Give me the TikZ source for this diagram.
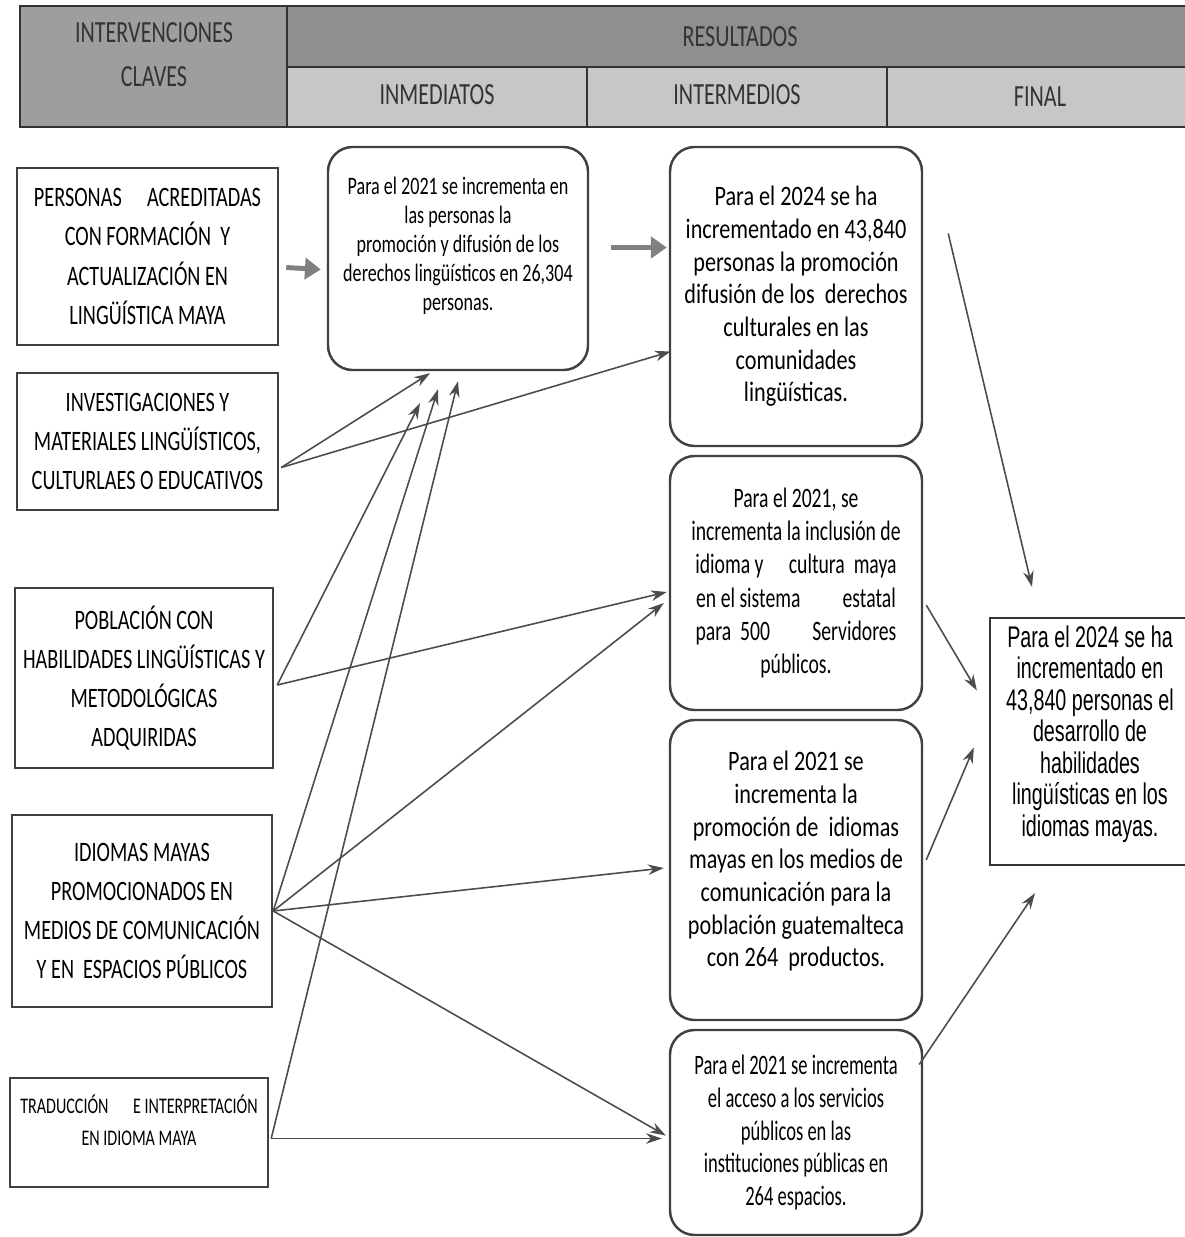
\documentclass[tikz,border=0pt]{standalone}
\usepackage{fontspec}
\usetikzlibrary{arrows.meta}
\newfontfamily\angosta[FakeStretch=0.72]{Carlito}
\newfontfamily\media[FakeStretch=0.79]{Carlito}
\newfontfamily\mediab[FakeStretch=0.70]{Carlito}
\newfontfamily\mediad[FakeStretch=0.66]{Carlito}
\newfontfamily\estrecha[FakeStretch=0.66]{Liberation Sans}
\newcommand{\enc}{\fontsize{17.5}{20}\angosta}
\newcommand{\cl}{\fontsize{16}{22.3}\angosta}
\newcommand{\cltr}{\fontsize{12.7}{18.1}\angosta}
\newcommand{\inm}{\fontsize{14.3}{16.6}\angosta}
\newcommand{\itm}{\fontsize{16}{18.6}\media}
\newcommand{\itmb}{\fontsize{16}{18.8}\mediab}
\newcommand{\itmd}{\fontsize{16}{18.6}\mediad}
\newcommand{\fn}{\fontsize{17}{17.9}\estrecha}

\begin{document}
\begin{tikzpicture}[x=0.02cm,y=-0.02cm,
    tam/.style 2 args={minimum width=#1*0.02cm,minimum height=#2*0.02cm},
    clave/.style={draw=black!75,line width=1.4pt,align=center,inner sep=0pt,font=\cl},
    inmed/.style={draw=black!75,line width=1.4pt,rounded corners=14pt,align=center,inner sep=0pt,font=\inm},
    interm/.style={inmed,font=\itm},
    encab/.style={font=\enc,text=black!80},
    flecha/.style={draw=black!70,line width=0.9pt,-{Stealth[length=9pt,width=6pt]}},
    gruesa/.style={draw=black!50,line width=2.8pt,-{Triangle[length=9pt,width=12pt]}}]
  \useasboundingbox (0,0) rectangle (1185,1237);

  % encabezado
  \filldraw[fill=black!38,draw=black!80,line width=1.2pt] (20,6) rectangle (287,127);
  \filldraw[fill=black!44,draw=black!80,line width=1.2pt] (287,6) rectangle (1195,67);
  \filldraw[fill=black!22,draw=black!80,line width=1.2pt] (287,67) rectangle (587,127);
  \filldraw[fill=black!22,draw=black!80,line width=1.2pt] (587,67) rectangle (887,127);
  \filldraw[fill=black!22,draw=black!80,line width=1.2pt] (887,67) rectangle (1195,127);
  \node[encab] (intv) at (154,33) {INTERVENCIONES};
  \node[encab] (clav) at (154,77) {CLAVES};
  \node[encab] (resu) at (740,37) {RESULTADOS};
  \node[encab] (hinm) at (437,95) {INMEDIATOS};
  \node[encab] (hint) at (737,95) {INTERMEDIOS};
  \node[encab] (hfin) at (1040,97) {FINAL};

  % intervenciones claves
  \node[clave,tam={261}{177}] (p1) at (147.5,256.5)
    {PERSONAS\hspace{0.9em}ACREDITADAS\\CON FORMACIÓN\ \ Y\\ACTUALIZACIÓN EN\\LINGÜÍSTICA MAYA};
  \node[clave,tam={261}{137}] (p2) at (147.5,441.5)
    {INVESTIGACIONES Y\\MATERIALES LINGÜÍSTICOS,\\CULTURLAES O\ EDUCATIVOS};
  \node[clave,tam={258}{180}] (p3) at (144,678)
    {POBLACIÓN CON\\HABILIDADES LINGÜÍSTICAS Y\\METODOLÓGICAS\\ADQUIRIDAS};
  \node[clave,tam={260}{192}] (p4) at (142,911)
    {IDIOMAS MAYAS\\PROMOCIONADOS EN\\MEDIOS DE COMUNICACIÓN\\Y EN\ \ ESPACIOS PÚBLICOS};
  \node[clave,tam={258}{109},font=\cltr] (p5) at (139,1132.5)
    {TRADUCCIÓN\hspace{1.1em}E INTERPRETACIÓN\\EN IDIOMA MAYA\\[-4pt]\mbox{}};

  % resultados
  \node[inmed,tam={260}{223}] (inm) at (458,258.5)
    {Para el 2021 se incrementa en\\las personas la\\promoción y difusión de los\\derechos lingüísticos en 26,304\\personas.\\\mbox{}};
  \node[interm,tam={252}{299}] (ia) at (796,296.5)
    {Para el 2024 se ha\\incrementado en 43,840\\personas la promoción\\difusión de los\ \ derechos\\culturales en las\\comunidades\\lingüísticas.};
  \node[interm,tam={252}{254},font=\itmb] (ib) at (796,583)
    {Para el 2021, se\\incrementa la inclusión de\\idioma y\hspace{0.9em}cultura\ \ maya\\en el sistema\hspace{1.5em}estatal\\para\ \ 500\hspace{1.5em}Servidores\\públicos.};
  \node[interm,tam={252}{300}] (ic) at (796,870)
    {Para el 2021 se\\incrementa la\\promoción de\ \ idiomas\\mayas en los medios de\\comunicación para la\\población guatemalteca\\con 264\ \ productos.\\[-6pt]\mbox{}};
  \node[interm,tam={252}{205},font=\itmd] (id) at (796,1132.5)
    {Para el 2021 se incrementa\\el acceso a los servicios\\públicos en las\\instituciones públicas en\\264 espacios.};
  \node[draw=black!80,line width=1.3pt,tam={200}{247},align=center,font=\fn] (fin) at (1090,741.5)
    {Para el 2024 se ha\\incrementado en\\43,840 personas el\\desarrollo de\\habilidades\\lingüísticas en los\\idiomas mayas.\\[-6pt]\mbox{}};

  % flechas
  \draw[gruesa] ([shift={(7,11)}]p1.east) -- ([shift={(-6,11)}]inm.west);
  \draw[gruesa] ([shift={(22,-11)}]inm.east) -- ([shift={(-2,-49)}]ia.west);
  \draw[flecha] ([shift={(2,26)}]p2.east) -- ([shift={(-28,2)}]inm.south);
  \draw[flecha] ([shift={(2,26)}]p2.east) -- ([shift={(2,55)}]ia.west);
  \draw[flecha] ([shift={(3,7)}]p3.east) -- ([shift={(-38,32)}]inm.south);
  \draw[flecha] ([shift={(3,7)}]p3.east) -- ([shift={(-2,9)}]ib.west);
  \draw[flecha] (p4.east) -- ([shift={(-20,18)}]inm.south);
  \draw[flecha] (p4.east) -- ([shift={(-5,20)}]ib.west);
  \draw[flecha] (p4.east) -- ([shift={(-5,-2)}]ic.west);
  \draw[flecha] (p4.east) -- ([shift={(-3,3)}]id.west);
  \draw[flecha] ([shift={(2,6)}]p5.east) -- ([shift={(0,10)}]inm.south);
  \draw[flecha] ([shift={(2,6)}]p5.east) -- ([shift={(-7,6)}]id.west);
  \draw[flecha] ([shift={(25,-63)}]ia.east) -- ([shift={(-58,-30)}]fin.north);
  \draw[flecha] ([shift={(3,22)}]ib.east) -- ([shift={(-12,-51)}]fin.west);
  \draw[flecha] ([shift={(3,-10)}]ic.east) -- ([shift={(-15,6)}]fin.west);
  \draw[flecha] ([shift={(-4,-68)}]id.east) -- ([shift={(-55,27)}]fin.south);
\end{tikzpicture}
\end{document}
